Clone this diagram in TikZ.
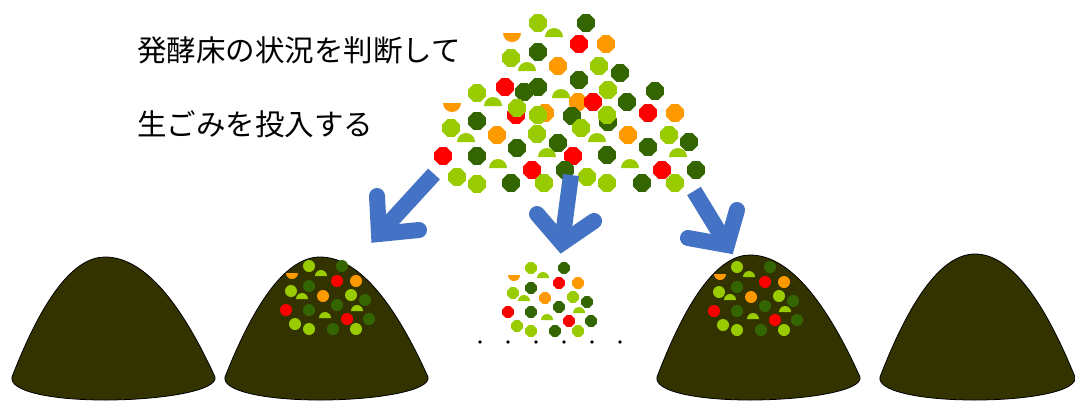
\documentclass[tikz,border=0pt]{standalone}
\usepackage{fontspec}
\newfontfamily\jp{Noto Sans CJK JP}
\definecolor{lgreen}{HTML}{99CC00}
\definecolor{dgreen}{HTML}{336600}
\definecolor{pred}{HTML}{FF0000}
\definecolor{porange}{HTML}{FF9900}
\definecolor{soil}{HTML}{333300}
\definecolor{arrowblue}{HTML}{4472C4}

% filled octagon: colour, centre, radius
\newcommand\octa[3]{\fill[#1] (#2) +(22.5:#3) -- +(67.5:#3) -- +(112.5:#3) -- +(157.5:#3)
  -- +(202.5:#3) -- +(247.5:#3) -- +(292.5:#3) -- +(337.5:#3) -- cycle;}
% half disc, flat side down / flat side up
\newcommand\dome[4]{\fill[#1] ($(#2,#3)+(-#4,0)$) arc[start angle=180,end angle=0,radius=#4pt] -- cycle;}
\newcommand\bowl[4]{\fill[#1] ($(#2,#3)+(-#4,0)$) arc[start angle=180,end angle=360,radius=#4pt] -- cycle;}
% heap of compost (parabolic outline): left foot, peak x, right foot, peak y
\newcommand\mound[4]{\draw[moundstyle] (#1,377)
  .. controls ({#1+(#2-#1)/3},{#4+(377-#4)/3}) and ({#2-(#2-#1)/3},#4) .. (#2,#4)
  .. controls ({#2+(#3-#2)/3},#4) and ({#3-(#3-#2)/3},{#4+(377-#4)/3}) .. (#3,377)
  .. controls (#3+3,391) and (#2+55,400) .. (#2,400)
  .. controls (#2-55,400) and (#1-3,391) .. (#1,377) -- cycle;}

% small cluster of kitchen waste; #1 = 1 for discs, 0 for octagons
\newcommand\cluster[1]{%
  \bowl{porange}{292}{273}{6}
  \foreach \x/\y in {321/276,302/299,357/311,325/318} {\dome{lgreen}{\x}{\y}{6}}
  \foreach \x/\y/\c in {356/281/porange,323/296/porange,337/281/pred,286/310/pred,347/319/pred,
    342/266/dgreen,309/286/dgreen,365/300/dgreen,337/305/dgreen,309/310/dgreen,369/319/dgreen,333/329/dgreen,
    309/266/lgreen,291/291/lgreen,351/295/lgreen,295/324/lgreen,309/329/lgreen,356/329/lgreen} {
    \ifnum#1=1 \fill[\c] (\x,\y) circle[radius=6pt];\else\octa{\c}{\x,\y}{6.3}\fi}}

\begin{document}
\begin{tikzpicture}[x=1pt,y=-1pt,
  moundstyle/.style={fill=soil,draw=black,line width=0.8pt},
  shaft/.style={draw=arrowblue,line width=16pt,line cap=butt},
  chevron/.style={draw=arrowblue,line width=16pt,line cap=round,line join=miter,miter limit=20},
  caption/.style={anchor=west,inner sep=0pt,font=\jp\fontsize{29.5}{30}\selectfont}]
\useasboundingbox (0,0) rectangle (1075,400);
\usetikzlibrary{calc}

% caption
\node[caption] (line1) at (137,50) {発酵床の状況を判断して};
\node[caption] (line2) at (137,124) {生ごみを投入する};

% heaps of fermentation bed
\mound{12}{105}{215}{257}
\mound{225}{320}{428}{257}
\mound{657}{750}{860}{255}
\mound{880}{975}{1075}{254}

% waste on the second and third heaps
\cluster{1}
\begin{scope}[shift={(428,1)}]\cluster{1}\end{scope}
% small portion in the middle
\begin{scope}[shift={(222,2)}]\cluster{0}\end{scope}

% dots
\foreach \x [count=\i] in {480,508,536,564,592,620} {\fill (\x,342) circle[radius=1.8pt];}

% large pile of kitchen waste
\foreach \x/\y in {512/33,452/103} {\bowl{porange}{\x}{\y}{9}}
\foreach \x/\y in {606/44,558/66,578/102,545/113,675/113,497/135,628/135} {\octa{porange}{\x,\y}{9.5}}
\foreach \x/\y in {554/37,527/71,493/106,561/98,466/142,597/142,547/157,678/157,498/168,630/168} {\dome{lgreen}{\x}{\y}{9}}
\foreach \x/\y in {579/44,505/87,593/102,516/115,648/113,443/156,573/156,532/170,662/170} {\octa{pred}{\x,\y}{9.5}}
\foreach \x/\y in {586/23,538/52,620/73,579/80,524/92,538/87,655/91,627/102,572/116,608/122,477/121,689/142,
  558/143,517/148,648/147,477/156,607/155,565/170,696/170,511/183,642/183} {\octa{dgreen}{\x,\y}{9.5}}
\foreach \x/\y in {538/23,511/58,599/66,608/90,477/93,517/108,538/115,607/115,451/128,537/134,581/128,669/135,
  457/177,477/184,544/183,587/177,607/183,675/183} {\octa{lgreen}{\x,\y}{9.5}}

% arrows from the pile to the heaps
\coordinate (s1) at (434,174); \coordinate (v1) at (379,234);
\coordinate (l1) at (377,196); \coordinate (r1) at (419,230);
\coordinate (s2) at (571,175); \coordinate (v2) at (562,243);
\coordinate (l2) at (537,214); \coordinate (r2) at (594,221);
\coordinate (s3) at (694,191); \coordinate (v3) at (727,245);
\coordinate (l3) at (688,238); \coordinate (r3) at (737,210);
\foreach \i in {1,2,3} {
  \draw[shaft] (s\i) -- (v\i);
  \draw[chevron] (l\i) -- (v\i) -- (r\i);
}
\end{tikzpicture}
\end{document}
